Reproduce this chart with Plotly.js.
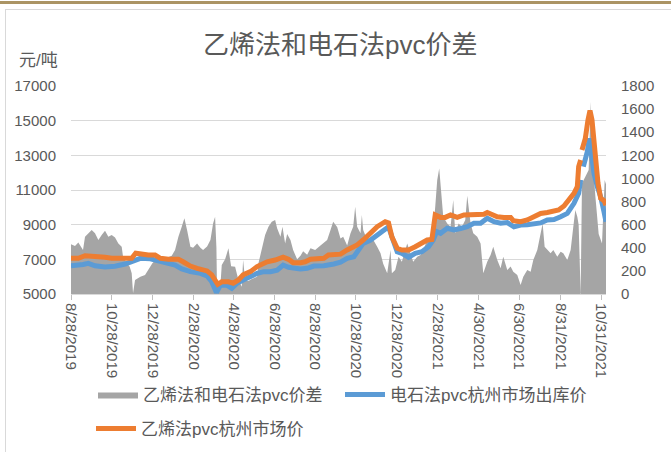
<!DOCTYPE html>
<html><head><meta charset="utf-8">
<script src="https://cdn.plot.ly/plotly-3.0.1.min.js"></script>
<style>
body{margin:0;padding:0;background:#fff;overflow:hidden;}
#wrap{position:relative;width:671px;height:452px;}
#chart{position:absolute;left:0;top:0;width:671px;height:452px;}
.gold{position:absolute;left:0;top:1px;width:671px;height:3px;background:#ab9464;}
.frame{position:absolute;left:5px;top:9px;width:680px;height:460px;border:1px solid #d9d9d9;box-sizing:border-box;}
</style></head>
<body><div id="wrap"><div class="gold"></div><div class="frame"></div><div id="chart"></div></div>
<script>
// Start date of the series; all *Days arrays are day offsets
const startDate = '2019-08-28';

// 乙烯法和电石法pvc价差 (right axis)
const spreadDays = [0,6,11,16,18,21,26,31,36,41,46,51,56,61,66,71,76,78,84,88,91,93,96,104,111,119,122,128,134,141,151,156,161,166,170,174,179,183,189,194,198,204,209,213,216,218,219,221,224,226,231,236,240,246,251,256,258,261,266,271,279,281,286,291,296,301,306,309,314,317,321,324,329,333,339,344,348,354,359,366,374,384,389,393,399,404,408,414,419,423,426,429,434,436,438,444,449,453,459,464,468,474,476,479,481,486,491,496,504,509,513,519,524,528,534,539,543,546,549,552,555,558,564,569,573,576,581,586,591,594,599,603,609,614,618,624,629,633,639,644,648,654,659,663,669,674,678,684,689,693,699,704,707,710,714,719,723,729,734,738,744,749,753,756,759,761,764,766,771,776,779,781,786,791,796,800,802];
const spreadVals = [430,415,445,405,380,496,525,554,525,467,510,548,496,510,490,438,409,323,266,236,179,6,121,150,165,236,266,300,290,310,330,380,496,582,655,554,409,400,438,400,380,410,467,611,669,400,0,63,80,251,300,395,240,236,121,63,294,120,112,130,150,266,380,510,582,626,640,570,496,582,438,520,467,380,300,330,370,340,395,380,420,467,554,626,580,480,496,420,525,582,755,582,525,684,554,467,470,470,409,352,262,179,260,380,179,208,323,280,438,352,280,323,338,380,467,496,554,755,987,1087,870,669,611,582,813,525,611,582,640,850,611,525,496,438,179,280,338,409,294,222,323,208,237,193,164,78,150,208,193,294,380,525,611,409,380,352,380,323,366,352,294,380,582,727,669,600,0,958,1015,1073,1664,1240,850,520,438,987,950];

// 电石法pvc杭州市场出库价 (left axis)
const carbideDays = [0,11,18,26,36,51,66,81,93,104,119,134,146,156,166,179,194,204,211,216,218,224,234,241,249,258,269,279,289,299,309,318,326,336,344,354,364,379,389,394,404,414,424,429,438,449,459,471,476,481,489,496,506,516,526,536,543,548,554,564,574,584,594,604,614,624,634,644,654,664,674,684,694,704,714,724,734,744,754,761,764,765,768,774,777,781,784,789,794,799,802];
const carbideVals = [6630,6630,6700,6770,6630,6560,6600,6730,6930,7060,7030,6900,6730,6670,6450,6290,6190,6040,5710,5130,5080,5520,5500,5330,5620,5810,6040,6190,6290,6290,6380,6670,6540,6480,6440,6480,6610,6630,6680,6730,6840,7060,7150,7440,7920,8115,8400,8790,8880,8300,7440,7350,7120,7350,7440,7730,8115,8600,8500,8790,8690,8780,8880,9080,9080,9370,9170,9080,9120,8880,8980,9000,9080,9100,9270,9300,9460,9650,10230,10810,11580,null,12350,13210,13980,12920,11960,11190,10610,9750,9170];

// 乙烯法pvc杭州市场价 (left axis)
const ethyleneDays = [0,11,21,31,41,51,61,81,91,97,104,116,126,134,146,161,168,179,189,194,204,211,216,220,226,236,243,251,258,269,279,286,294,306,318,326,333,344,351,359,369,379,386,393,404,414,429,438,449,459,471,476,481,489,496,506,516,526,534,541,543,546,554,561,569,579,589,599,609,619,624,632,639,649,659,663,674,684,693,704,714,724,731,739,746,754,759,761,764,765,766,771,775,778,781,784,786,790,794,799,802];
const ethyleneVals = [7060,7060,7210,7210,7150,7120,7060,7060,7060,7350,7290,7250,7250,7060,7000,7000,6860,6610,6480,6450,6330,6100,5710,5560,5700,5700,5620,5810,6100,6290,6580,6730,6860,6960,7120,7000,6810,6810,6860,7000,7060,7060,7250,7250,7300,7540,7830,8115,8500,8880,9170,9100,8300,7640,7540,7540,7730,7920,8115,8150,8690,9560,9420,9420,9560,9420,9560,9580,9600,9600,9700,9560,9460,9420,9420,9230,9170,9270,9460,9650,9700,9750,9850,10080,10420,10810,11190,12350,12730,null,13310,13980,15040,15580,15040,13690,12540,11390,10520,10380,10130];

const tickDates = ['2019-08-28','2019-10-28','2019-12-28','2020-02-28','2020-04-28','2020-06-28','2020-08-28','2020-10-28','2020-12-28','2021-02-28','2021-04-30','2021-06-30','2021-08-31','2021-10-31'];
const tickLabels = ['8/28/2019','10/28/2019','12/28/2019','2/28/2020','4/28/2020','6/28/2020','8/28/2020','10/28/2020','12/28/2020','2/28/2021','4/30/2021','6/30/2021','8/31/2021','10/31/2021'];

const names = ['乙烯法和电石法pvc价差','电石法pvc杭州市场出库价','乙烯法pvc杭州市场价'];

function toDates(days){
  const base = Date.parse(startDate + 'T00:00:00Z');
  return days.map(d => new Date(base + d*86400000).toISOString().slice(0,10));
}

const FONT = "'Liberation Sans', 'Noto Sans CJK SC', sans-serif";
const GREY = '#595959';

const traces = [
  {x: toDates(spreadDays), y: spreadVals, name: names[0], type:'scatter', mode:'lines',
   fill:'tozeroy', fillcolor:'#a5a5a5', line:{width:0, color:'#a5a5a5'}, yaxis:'y', legend:'legend', hoverinfo:'skip'},
  {x: toDates(carbideDays), y: carbideVals, name: names[1], type:'scatter', mode:'lines',
   line:{width:5, color:'#5b9bd5'}, yaxis:'y2', legend:'legend2', connectgaps:false},
  {x: toDates(ethyleneDays), y: ethyleneVals, name: names[2], type:'scatter', mode:'lines',
   line:{width:5, color:'#ed7d31'}, yaxis:'y2', legend:'legend3', connectgaps:false}
];

const legendBase = {orientation:'h', xref:'container', yref:'container', xanchor:'left', yanchor:'top',
  bgcolor:'rgba(0,0,0,0)', font:{family:FONT, size:17, color:GREY}, itemwidth:40};

const layout = {
  width:671, height:452, autosize:false,
  margin:{l:71, r:65, t:86, b:158, autoexpand:false},
  paper_bgcolor:'rgba(0,0,0,0)', plot_bgcolor:'rgba(0,0,0,0)',
  font:{family:FONT, color:GREY, size:14},
  title:{text:'乙烯法和电石法pvc价差', font:{family:FONT, size:26, color:GREY}, x:0.507, xref:'container', xanchor:'center', y:0.9, yref:'container', yanchor:'middle'},
  showlegend:true,
  xaxis:{type:'date', range:['2019-08-28','2021-11-07'], tickmode:'array', tickvals:tickDates, ticktext:tickLabels,
         tickangle:90, ticks:'outside', ticklen:5, tickcolor:'#bfbfbf', showgrid:false, showline:true, linecolor:'#d9d9d9', linewidth:1,
         tickfont:{family:FONT, size:15, color:GREY}, zeroline:false, automargin:false},
  yaxis:{side:'right', range:[0,1800], dtick:200, tick0:0, showgrid:false, zeroline:false, showline:false, tickformat:'d',
         tickfont:{family:FONT, size:15, color:GREY}, ticks:'', ticklabelstandoff:14, automargin:false},
  yaxis2:{side:'left', overlaying:'y', range:[5000,17000], dtick:2000, tick0:5000, showgrid:true, gridcolor:'#d9d9d9', gridwidth:1,
          zeroline:false, showline:false, tickformat:'d', tickfont:{family:FONT, size:15, color:GREY}, ticks:'', ticklabelstandoff:14, automargin:false},
  legend: Object.assign({}, legendBase, {x:93/671, y:1-377/452}),
  legend2: Object.assign({}, legendBase, {x:340/671, y:1-377/452}),
  legend3: Object.assign({}, legendBase, {x:91/671, y:1-411/452}),
  annotations:[{text:'元/吨', xref:'paper', yref:'paper', x:(38-71)/535, y:(294-60)/208, xanchor:'center', yanchor:'middle', showarrow:false,
                font:{family:FONT, size:17, color:GREY}}]
};

Plotly.newPlot('chart', traces, layout, {displayModeBar:false, staticPlot:true});
</script></body></html>
